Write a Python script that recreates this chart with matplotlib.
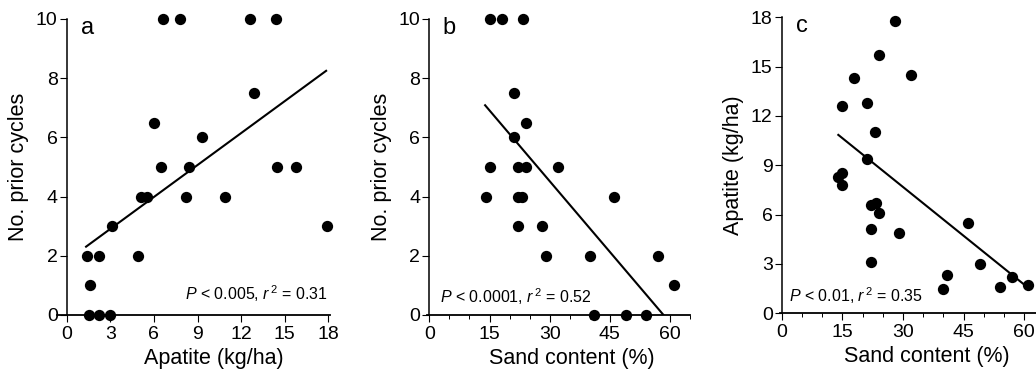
import numpy as np
import matplotlib
matplotlib.use("Agg")
import matplotlib.pyplot as plt
from matplotlib.ticker import MultipleLocator

plt.rcParams['font.family'] = ['Liberation Sans', 'DejaVu Sans']
plt.rcParams['mathtext.fontset'] = 'custom'
plt.rcParams['mathtext.rm'] = 'Liberation Sans'
plt.rcParams['mathtext.it'] = 'Liberation Sans:italic'

# panel a: apatite vs prior cycles
apatite_a = [1.4, 2.2, 1.6, 1.5, 2.2, 3.0, 3.1, 4.9, 5.1, 5.5, 6.0, 6.5, 6.6, 7.8,
             8.2, 8.4, 9.3, 10.9, 12.6, 12.9, 14.4, 14.5, 15.8, 17.9]
cycles_a = [2, 2, 1, 0, 0, 0, 3, 2, 4, 4, 6.5, 5, 10, 10,
            4, 5, 6, 4, 10, 7.5, 10, 5, 5, 3]
fit_a = (1.83, 0.3596)
fit_a_x = (1.33, 17.85)

# panel b: sand vs prior cycles
sand_b = [15, 18, 23.3, 21, 24, 21, 15, 22, 24, 32, 14, 22, 23, 46,
          22, 28, 29, 40, 57, 61, 41, 49, 54]
cycles_b = [10, 10, 10, 7.5, 6.5, 6, 5, 5, 5, 5, 4, 4, 4, 4,
            3, 3, 2, 2, 2, 1, 0, 0, 0]
fit_b = (9.30, -0.1593)
fit_b_x = (13.9, 58.4)

# panel c: sand vs apatite
sand_c = [28, 24, 18, 32, 15, 21, 23, 21, 14, 15, 15, 22, 23.3, 24,
          22, 29, 22, 46, 49, 41, 40, 54, 57, 61]
apatite_c = [17.8, 15.7, 14.3, 14.5, 12.6, 12.8, 11.0, 9.4, 8.3, 8.5, 7.8, 6.6, 6.7, 6.1,
             5.1, 4.9, 3.1, 5.5, 3.0, 2.3, 1.5, 1.6, 2.2, 1.7]
fit_c = (13.62, -0.198)
fit_c_x = (14.0, 60.8)

fig = plt.figure(figsize=(10.36, 3.73), dpi=100)
ax_a = fig.add_axes([0.0553, 0.1555, 0.2630, 0.7936])
ax_b = fig.add_axes([0.4125, 0.1555, 0.2536, 0.7936])
ax_c = fig.add_axes([0.7526, 0.1601, 0.2474, 0.7936])


def style(ax, xlim, ylim, xmaj, ymaj, xmin=None):
    ax.set_xlim(*xlim)
    ax.set_ylim(*ylim)
    for s in ['top', 'right']:
        ax.spines[s].set_visible(False)
    ax.spines['left'].set_position(('data', 0))
    ax.spines['left'].set_linewidth(1.1)
    ax.spines['bottom'].set_linewidth(1.3)
    ax.xaxis.set_major_locator(MultipleLocator(xmaj))
    ax.yaxis.set_major_locator(MultipleLocator(ymaj))
    if xmin:
        ax.xaxis.set_minor_locator(MultipleLocator(xmin))
    ax.set_xticks([t for t in ax.get_xticks() if 0 <= t <= xlim[1]])
    ax.tick_params(direction='out', length=5, width=0.8, labelsize=14)
    ax.tick_params(axis='x', pad=3)
    ax.tick_params(axis='y', pad=1.5)
    ax.tick_params(which='minor', direction='out', length=3, width=0.7)


def panel(ax, x, y, fit, fit_x, letter, letter_pos, note, note_pos, note_ha):
    ax.scatter(x, y, s=66, color='black', zorder=3, clip_on=False, linewidths=0)
    xs = np.array(fit_x)
    ax.plot(xs, fit[0] + fit[1] * xs, color='black', lw=1.5)
    ax.text(letter_pos[0], letter_pos[1], letter, fontsize=17, va='baseline')
    ax.text(note_pos[0], note_pos[1], note, fontsize=11.5, ha=note_ha, va='baseline')


def labels(ax, xlabel, ylabel, xpos):
    ax.set_xlabel(xlabel, fontsize=15.5)
    ax.xaxis.set_label_coords(xpos, -0.11)
    ax.set_ylabel(ylabel, fontsize=15.5, labelpad=5)


style(ax_a, (-0.65, 18.1), (0, 10), 3, 2)
panel(ax_a, apatite_a, cycles_a, fit_a, fit_a_x, 'a', (1.0, 9.5),
      '$P$ < 0.005, $r^{\\,2}$ = 0.31', (18.0, 0.5), 'right')
labels(ax_a, 'Apatite (kg/ha)', 'No. prior cycles', 0.575)

style(ax_b, (-0.5, 65), (0, 10), 15, 2, 5)
panel(ax_b, sand_b, cycles_b, fit_b, fit_b_x, 'b', (3.2, 9.5),
      '$P$ < 0.0001, $r^{\\,2}$ = 0.52', (2.7, 0.4), 'left')
labels(ax_b, 'Sand content (%)', 'No. prior cycles', 0.551)

style(ax_c, (-0.5, 62.9), (0, 18), 15, 3, 5)
panel(ax_c, sand_c, apatite_c, fit_c, fit_c_x, 'c', (3.5, 17.1),
      '$P$ < 0.01, $r^{\\,2}$ = 0.35', (1.9, 0.7), 'left')
labels(ax_c, 'Sand content (%)', 'Apatite (kg/ha)', 0.575)

fig.savefig('out.png', dpi=100)
